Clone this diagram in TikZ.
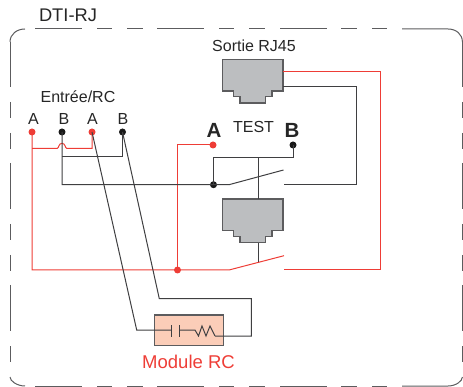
\documentclass[tikz,border=0pt]{standalone}
\usepackage{fontspec}
\setmainfont{Liberation Sans}
\definecolor{wirek}{HTML}{3F3F41}
\definecolor{wirer}{HTML}{EE3D36}
\definecolor{jackfill}{HTML}{BCBEC0}
\definecolor{rcfill}{HTML}{FBCDB8}
\newcommand{\fsz}[1]{\fontsize{#1}{#1}\selectfont}
\tikzset{
  x=1pt,y=-1pt,
  frameline/.style={draw=wirek!85,line width=1pt},
  kwire/.style={draw=wirek,line width=1pt,line join=miter},
  rwire/.style={draw=wirer,line width=1pt,line join=miter},
  kdot/.style={circle,fill=black!90,inner sep=0pt,minimum size=7pt},
  rdot/.style={circle,fill=wirer,inner sep=0pt,minimum size=7pt},
  lab/.style={anchor=base,inner sep=0pt,text=black!85},
  smalllab/.style={lab,font=\fsz{16}},
  biglab/.style={lab,font=\fsz{20.5}\bfseries},
  jackshape/.style={draw=wirek!85,fill=jackfill,line width=1.2pt,line join=miter},
  rcbox/.style={draw=wirek!85,fill=rcfill,line width=1.1pt},
}
\begin{document}
\begin{tikzpicture}
\useasboundingbox (0,0) rectangle (463,387);
% dashed frame
\draw[frameline] (10,42) .. controls (10,34) and (17,29) .. (25,29);
\draw[frameline] (462.4,42) .. controls (462.4,34) and (456,29) .. (448,29) -- (402,29);
\draw[frameline] (10,377) .. controls (10,381) and (17,386) .. (25,386);
\draw[frameline] (462.4,377) .. controls (462.4,381) and (456,386) .. (448,386) -- (402,386);
\foreach \a/\b in {35/82,97/112,127/143,157/204,219/234,249/265,280/327,341/357,372/387}{
  \draw[frameline] (\a,29) -- (\b,29);
  \draw[frameline] (\a,386) -- (\b,386);
}
\foreach \a/\b in {42/87,102/118,133/149,163/209,224/240,255/271,285/331,346/362}{
  \draw[frameline] (10,\a) -- (10,\b);
  \draw[frameline,line width=0.8pt] (462.4,\a) -- (462.4,\b);
}
% texts
\node[lab,font=\fsz{18.3}] (title) at (68,21.5) {DTI-RJ};
\node[smalllab] (entree) at (78,103) {Entrée/RC};
\node[smalllab] (sortie) at (254,51.5) {Sortie RJ45};
\node[smalllab] (test) at (253.5,132.5) {TEST};
\node[lab,font=\fsz{18.5},text=wirer] (modrc) at (188.5,368) {Module RC};
\node[smalllab] (la1) at (33.5,124.5) {A};
\node[smalllab] (lb1) at (64,124.5) {B};
\node[smalllab] (la2) at (92.5,124.5) {A};
\node[smalllab] (lb2) at (123,124.5) {B};
\node[biglab] (bigA) at (214,138) {A};
\node[biglab] (bigB) at (292,137.5) {B};
% RC module box
\node[rcbox,minimum width=69pt,minimum height=30.7pt,inner sep=0pt] (rc) at (188.8,330.3) {};
% jacks
\foreach \n/\t in {jacka/59.3,jackb/199}{
  \begin{scope}[yshift=-\t pt]
    \path[jackshape] (222.7,0) -- (283,0) -- (283,31.7) -- (272,31.7) -- (272,37.4) -- (265.7,37.4) -- (265.7,43.7)
      -- (240,43.7) -- (240,37.4) -- (233.7,37.4) -- (233.7,31.7) -- (222.7,31.7) -- cycle;
  \end{scope}
}
\coordinate (jaR) at (283,72);
\coordinate (jaK) at (283,87);
\coordinate (jbT) at (258,199);
\coordinate (jbB) at (258,243);
% terminals
\node[rdot] (ta1) at (32,132) {};
\node[kdot] (tb1) at (62,132) {};
\node[rdot] (ta2) at (92,132) {};
\node[kdot] (tb2) at (122.5,132) {};
\node[rdot] (tA) at (213,145) {};
\node[kdot] (tB) at (293,145) {};
\node[kdot] (jk) at (213.5,184.7) {};
\node[rdot] (jr) at (177.5,270) {};
% contact points
\coordinate (swk) at (229,184.7);
\coordinate (swkE) at (283.5,170);
\coordinate (ctk) at (284,184.7);
\coordinate (swr) at (229,270);
\coordinate (swrE) at (284,255.7);
\coordinate (ctr) at (284,270);
\coordinate (capa) at (171.7,330);
\coordinate (capb) at (179,330);
\coordinate (res1) at (195,330);
\coordinate (res2) at (215,336);
% red wiring
\draw[rwire] (ta1.center) -- (32,270) -- (jr.center) -- (swr) -- (swrE);
\draw[rwire] (ta1.center |- 0,148.3) -- (57.3,148.3) .. controls (59,148.3) and (58.5,143.3) .. (62,143.3)
  .. controls (65.5,143.3) and (65,148.3) .. (66.7,148.3) -- (92,148.3) -- (ta2.center);
\draw[rwire] (tA.center) -- (177.5,145) -- (jr.center);
\draw[rwire] (ctr) -- (380,270) -- (380,72) -- (jaR);
% black wiring
\draw[kwire] (tb1.center) -- (62,184.7) -- (jk.center) -- (swk) -- (swkE);
\draw[kwire] (62,157) -- (122.5,157) -- (tb2.center);
\draw[kwire] (jk.center) -- (213.5,157.7) -- (293,157.7) -- (tB.center);
\draw[kwire] (ctk) -- (356,184.7) -- (356,87) -- (jaK);
\draw[kwire] (258,157.7) -- (jbT);
\draw[kwire] (jbB) -- (258,261.7);
\draw[kwire] (ta2.center) -- (136.7,330) -- (capa);
\draw[kwire] (tb2.center) -- (159.3,298.7) -- (251.3,298.7) -- (251.3,336) -- (res2);
% RC symbols
\draw[kwire] (capa |- 0,325) -- (capa |- 0,337);
\draw[kwire] (capb |- 0,325) -- (capb |- 0,337);
\draw[kwire] (capb) -- (res1) -- (198.5,336) -- (202,326) -- (206,336) -- (210,326) -- (res2);
\end{tikzpicture}
\end{document}
